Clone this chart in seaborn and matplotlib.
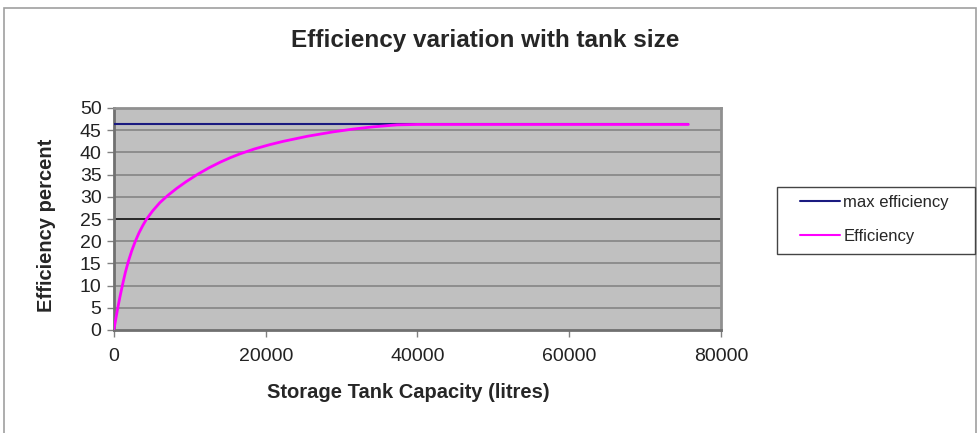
import matplotlib
matplotlib.use("Agg")
import matplotlib.pyplot as plt
import seaborn as sns
import pandas as pd
from matplotlib.patches import Rectangle
from matplotlib.lines import Line2D

capacity = [0, 250, 500, 800, 1150, 1500, 1900, 2330, 2800, 3300, 3800, 4300,
            5100, 6060, 7100, 8260, 9500, 11000, 12500, 14000, 15300, 16600,
            18500, 20500, 22300, 25500, 28900, 31500, 34200, 37300, 40000,
            50000, 60000, 75700]
efficiency = [0.2, 2.6, 5.0, 7.6, 10.4, 13.0, 15.5, 17.8, 19.95, 21.9, 23.55, 25.0,
              26.84, 28.71, 30.32, 31.89, 33.4, 35.05, 36.51, 37.8, 38.79, 39.67,
              40.77, 41.73, 42.49, 43.64, 44.63, 45.25, 45.76, 46.2, 46.3,
              46.3, 46.3, 46.3]
max_capacity = [0, 75700]
max_efficiency = [46.3, 46.3]
x_ticks = [0, 20000, 40000, 60000, 80000]
y_ticks = list(range(0, 55, 5))

sns.set_style("white")
plt.rcParams['font.family'] = ['Liberation Sans', 'DejaVu Sans']

fig = plt.figure(figsize=(9.77, 4.33), dpi=100)
fig.patches.append(Rectangle((4/977, -0.1), 972/977, 1.1 - 8/433, transform=fig.transFigure,
                             fill=False, edgecolor='#a0a0a0', linewidth=1.2))
ax = fig.add_axes([114/977, 1-330/433, (721-114)/977, (330-108)/433])
ax.set_facecolor('#c0c0c0')

for y in y_ticks[1:-1]:
    ax.axhline(y, color='black' if y == 25 else '#808080', linewidth=1.1, zorder=1)

df_max = pd.DataFrame({'x': max_capacity, 'y': max_efficiency})
df_eff = pd.DataFrame({'x': capacity, 'y': efficiency})
sns.lineplot(data=df_max, x='x', y='y', ax=ax, color='#1a1a80', linewidth=1.5, zorder=3)
sns.lineplot(data=df_eff, x='x', y='y', ax=ax, color='#ff00ff', linewidth=2, zorder=4)

ax.set_xlim(0, 80000)
ax.set_ylim(0, 50)
ax.set_xticks(x_ticks)
ax.set_yticks(y_ticks)
ax.set_xticklabels([str(t) for t in x_ticks], fontsize=14)
ax.set_yticklabels([str(t) for t in y_ticks], fontsize=14)
ax.tick_params(axis='both', direction='out', length=5, width=1, color='#808080',
               left=True, bottom=True, labelcolor='#222222', pad=4)
ax.tick_params(axis='x', pad=8)
for side in ['top', 'right']:
    ax.spines[side].set_color('#909090')
    ax.spines[side].set_linewidth(2)
for side in ['left', 'bottom']:
    ax.spines[side].set_color('#707070')
    ax.spines[side].set_linewidth(2)
ax.set_xlabel('')
ax.set_ylabel('')

fig.text(485/977, 1-41/433, 'Efficiency variation with tank size', ha='center', va='center',
         fontsize=17.5, fontweight='bold')
fig.text(408/977, 1-392/433, 'Storage Tank Capacity (litres)', ha='center', va='center',
         fontsize=14.5, fontweight='bold')
fig.text(47/977, 1-225/433, 'Efficiency percent', ha='center', va='center', rotation=90,
         fontsize=14.5, fontweight='bold')

# legend frame
fig.patches.append(Rectangle((777/977, 1-254/433), (975-777)/977, (254-187)/433,
                             transform=fig.transFigure, fill=False,
                             edgecolor='#444444', linewidth=1))

handles = [Line2D([], [], color='#1a1a80', linewidth=1.5),
           Line2D([], [], color='#ff00ff', linewidth=1.5)]
leg = fig.legend(handles, ['max efficiency', 'Efficiency'], loc='upper left',
                 bbox_to_anchor=(800/977, 1-195/433), frameon=False,
                 fontsize=12, handlelength=2.4, handletextpad=0.2, borderpad=0,
                 borderaxespad=0, labelspacing=1.15)

fig.savefig('out.png', dpi=100)
